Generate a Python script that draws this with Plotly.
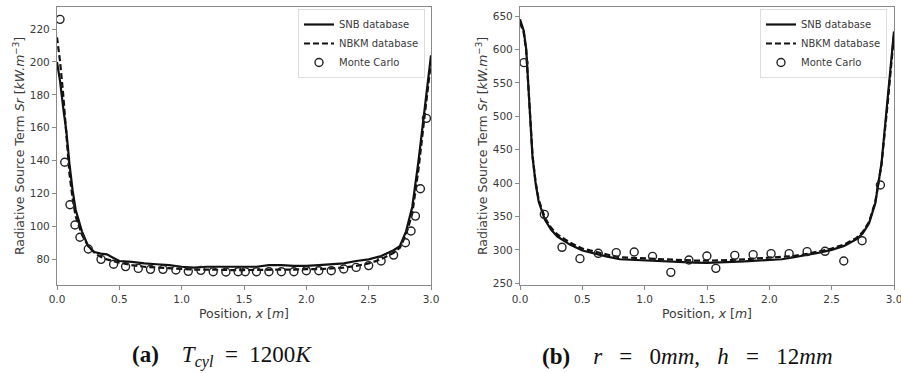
import plotly.graph_objects as go

# ---------------- data: panel (a) ----------------
xa_line = [0, 0.025, 0.05, 0.075, 0.1, 0.125, 0.15, 0.2, 0.25, 0.3, 0.35, 0.4, 0.45, 0.5,
           0.6, 0.7, 0.8, 0.9, 1.0, 1.1, 1.2, 1.3, 1.4, 1.5, 1.6, 1.7, 1.8, 1.9, 2.0,
           2.1, 2.2, 2.3, 2.4, 2.5, 2.6, 2.7, 2.75, 2.8, 2.85, 2.9, 2.95, 3.0]
snb_a = [200, 188, 172, 158, 138, 122, 110, 97, 88, 84.5, 83.5, 83, 81, 79,
         78.5, 77.5, 77, 76.5, 75.5, 75, 75.5, 75.5, 75.5, 75.5, 75.5, 76.5, 76.5, 76, 76,
         76.5, 77, 77.5, 79, 80, 82, 85.5, 88, 97, 112, 140, 172, 204]
nbkm_a = [215, 200, 180, 158, 132, 117, 106, 95, 88, 84, 81.5, 80, 79, 78,
          76.5, 75.5, 75, 74.5, 74, 73.8, 73.8, 73.5, 73.5, 73.5, 73.5, 73.5, 73.5, 73.8, 74,
          74, 74.5, 75, 76, 77.5, 80, 84, 87, 95, 108, 135, 168, 200]
xa_mc = [0.024, 0.062, 0.104, 0.144, 0.184, 0.251, 0.353, 0.454, 0.55, 0.652, 0.75, 0.85,
         0.954, 1.053, 1.154, 1.253, 1.355, 1.453, 1.51, 1.6, 1.70, 1.80, 1.90, 2.0, 2.1,
         2.2, 2.3, 2.4, 2.5, 2.6, 2.7, 2.795, 2.84, 2.875, 2.915, 2.963]
mc_a = [225.9, 139, 113.2, 100.9, 93.4, 86.3, 80, 77, 75.6, 74.5, 73.9, 73.9,
        73.5, 72.7, 73.3, 72.5, 72.3, 72.5, 72.5, 72.5, 72.5, 72.5, 72.5, 73.1, 73.1,
        73.1, 74.1, 75.1, 76.2, 79, 82.6, 90.1, 97.2, 106.3, 122.9, 165.7]

# ---------------- data: panel (b) ----------------
xb_line = [0, 0.03, 0.05, 0.075, 0.1, 0.125, 0.15, 0.2, 0.25, 0.3, 0.4, 0.5, 0.6, 0.7,
           0.8, 0.9, 1.0, 1.1, 1.2, 1.3, 1.4, 1.5, 1.6, 1.7, 1.8, 1.9, 2.0, 2.1, 2.2,
           2.3, 2.4, 2.5, 2.6, 2.7, 2.75, 2.8, 2.85, 2.9, 2.95, 3.0]
snb_b = [645, 628, 600, 520, 440, 400, 372, 345, 330, 320, 308, 299, 294, 290,
         286, 285, 284, 283, 282, 281, 281, 280.5, 281, 282, 283, 284, 285, 286, 289,
         292, 296, 300, 306, 316, 325, 340, 370, 430, 525, 627]
nbkm_b = [640, 625, 598, 522, 442, 402, 375, 348, 333, 323, 311, 302, 297, 293,
          289, 288, 287, 286, 285, 284, 284, 284, 284, 285, 286, 287, 288, 289, 291,
          294, 298, 302, 308, 318, 327, 342, 372, 428, 521, 622]
xb_mc = [0.032, 0.195, 0.337, 0.481, 0.628, 0.772, 0.916, 1.063, 1.21, 1.355, 1.499,
         1.571, 1.723, 1.87, 2.014, 2.159, 2.303, 2.447, 2.597, 2.744, 2.891]
mc_b = [580.2, 353.2, 303.9, 286.9, 294.9, 295.9, 296.9, 290.4, 266.4, 284.9, 290.9,
        272.4, 291.9, 292.9, 294.4, 294.4, 297.4, 297.9, 283.4, 313.8, 397.1]

x_ticks = [0.0, 0.5, 1.0, 1.5, 2.0, 2.5, 3.0]
ya_ticks = [80, 100, 120, 140, 160, 180, 200, 220]
yb_ticks = [250, 300, 350, 400, 450, 500, 550, 600, 650]

names = ["SNB database", "NBKM database", "Monte Carlo"]
SP = "&nbsp;"
captions = [
    "<b>(a)</b>" + SP * 4 + "<i>T</i><sub><i>cyl</i></sub>" + SP * 2 + "=" + SP * 2 + "1200<i>K</i>",
    "<b>(b)</b>" + SP * 4 + "<i>r</i>" + SP * 3 + "=" + SP * 3 + "0<i>mm</i>," + SP * 3
    + "<i>h</i>" + SP * 3 + "=" + SP * 3 + "12<i>mm</i>",
]

TXT = "#3a3a3a"
SPINE = "#8a8a8a"
FONT = "DejaVu Sans"

W, H = 901, 373
ML, MR, MT, MB = 57, 7, 7, 88
PW = W - ML - MR
PH = H - MT - MB

def px_x(p):
    return (p - ML) / PW

def px_y(p):
    return (H - MB - p) / PH

fig = go.Figure()

def add_panel(xl, snb, nbkm, xm, mc, xa, ya, leg):
    fig.add_trace(go.Scatter(x=xl, y=snb, mode="lines", name=names[0],
                             line=dict(color="#111", width=2.2),
                             xaxis=xa, yaxis=ya, legend=leg))
    fig.add_trace(go.Scatter(x=xl, y=nbkm, mode="lines", name=names[1],
                             line=dict(color="#111", width=2.2, dash="6px,3px"),
                             xaxis=xa, yaxis=ya, legend=leg))
    fig.add_trace(go.Scatter(x=xm, y=mc, mode="markers", name=names[2],
                             marker=dict(symbol="circle-open", size=8, color="#222",
                                         line=dict(width=1.4, color="#222")),
                             xaxis=xa, yaxis=ya, legend=leg))

add_panel(xa_line, snb_a, nbkm_a, xa_mc, mc_a, "x", "y", "legend")
add_panel(xb_line, snb_b, nbkm_b, xb_mc, mc_b, "x2", "y2", "legend2")

axis_common = dict(showline=True, mirror=True, linecolor=SPINE, linewidth=1.3,
                   ticks="outside", ticklen=4, tickcolor=SPINE, tickwidth=1,
                   showgrid=False, zeroline=False, automargin=False,
                   ticklabeloverflow="allow",
                   tickfont=dict(family=FONT, size=10.5, color=TXT))

ytitle = "Radiative Source Term <i>Sr</i> [<i>kW.m</i><sup>−3</sup>]"
xtitle = "Position, <i>x</i> [<i>m</i>]"
tfont = dict(family=FONT, size=12.5, color=TXT)

fig.update_layout(
    template="none",
    width=W, height=H,
    margin=dict(l=ML, r=MR, t=MT, b=MB, autoexpand=False),
    paper_bgcolor="white", plot_bgcolor="white",
    showlegend=True,
    xaxis=dict(domain=[px_x(57), px_x(431)], range=[0, 3], tickvals=x_ticks, tickformat=".1f",
               title=dict(text=xtitle, font=tfont, standoff=5),
               anchor="y", **axis_common),
    yaxis=dict(domain=[0, 1], range=[64.4, 233.4], tickvals=ya_ticks,
               title=dict(text=ytitle, font=tfont, standoff=2),
               anchor="x", **axis_common),
    xaxis2=dict(domain=[px_x(520), px_x(894)], range=[0, 3], tickvals=x_ticks, tickformat=".1f",
                title=dict(text=xtitle, font=tfont, standoff=5),
                anchor="y2", **axis_common),
    yaxis2=dict(domain=[0, 1], range=[247.5, 663.5], tickvals=yb_ticks,
                title=dict(text=ytitle, font=tfont, standoff=2),
                anchor="x2", **axis_common),
    legend=dict(x=px_x(425), y=px_y(9), xanchor="right", yanchor="top",
                bgcolor="rgba(255,255,255,0.9)", bordercolor="#dddddd", borderwidth=1,
                font=dict(family=FONT, size=10, color=TXT), tracegroupgap=0,
                itemwidth=30),
    legend2=dict(x=px_x(887), y=px_y(9), xanchor="right", yanchor="top",
                 bgcolor="rgba(255,255,255,0.9)", bordercolor="#dddddd", borderwidth=1,
                 font=dict(family=FONT, size=10, color=TXT), tracegroupgap=0,
                 itemwidth=30),
)

for cap, xc in zip(captions, [222, 687]):
    fig.add_annotation(text=cap, x=px_x(xc), y=px_y(356), xref="paper", yref="paper",
                       xanchor="center", yanchor="middle", showarrow=False,
                       font=dict(family="Liberation Serif", size=23, color="#111"))

fig.write_html("out.html", config={"displayModeBar": False},
               post_script="document.body.style.margin='0';")
